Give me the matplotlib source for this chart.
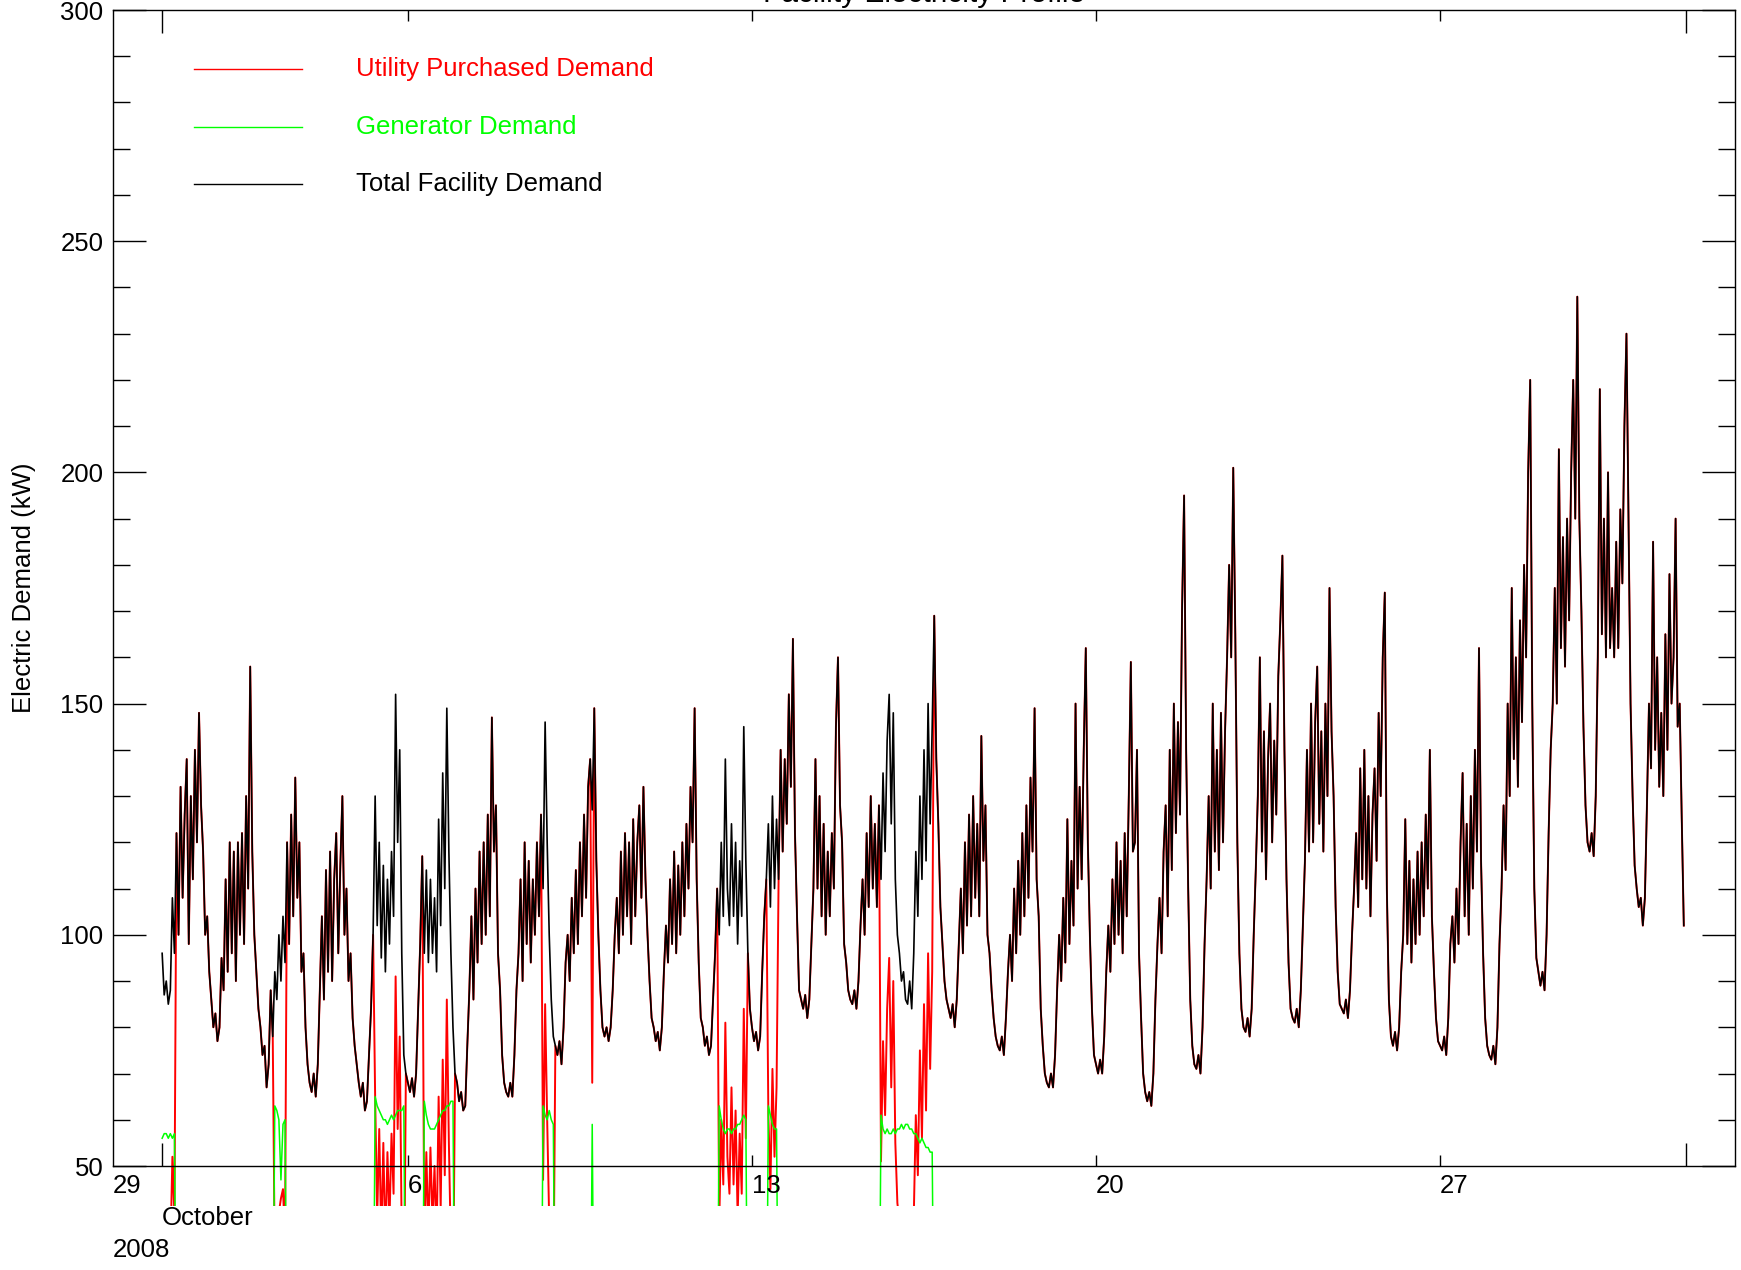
import datetime as dt
import matplotlib
matplotlib.use("Agg")
import matplotlib.pyplot as plt
import matplotlib.transforms as mtransforms
from matplotlib.patches import Rectangle
from matplotlib.ticker import MultipleLocator

plt.rcParams['font.family'] = ['Liberation Sans Narrow', 'Liberation Sans', 'DejaVu Sans']

# hourly total facility demand (kW), one row per day, Oct 1 .. Oct 31 2008
total_wk1 = [
    96, 87, 90, 85, 88, 108, 96, 122, 100, 132, 108, 126, 138, 98, 130, 112, 140, 120, 148, 128, 118, 100, 104, 92,   # Oct 1
    86, 80, 83, 77, 80, 95, 88, 112, 92, 120, 96, 118, 90, 120, 100, 122, 98, 130, 110, 158, 118, 100, 92, 84,        # Oct 2
    80, 74, 76, 67, 72, 88, 78, 92, 86, 100, 90, 104, 94, 120, 98, 126, 104, 134, 108, 120, 92, 96, 80, 72,           # Oct 3
    68, 66, 70, 65, 72, 88, 104, 86, 114, 92, 118, 90, 112, 122, 96, 115, 130, 100, 110, 90, 96, 82, 76, 72,          # Oct 4
    68, 65, 68, 62, 64, 74, 84, 100, 130, 102, 120, 95, 115, 92, 112, 98, 118, 104, 152, 120, 140, 96, 74, 70,        # Oct 5
    68, 66, 69, 65, 70, 84, 98, 117, 96, 114, 94, 112, 96, 108, 92, 125, 102, 135, 110, 149, 118, 96, 80, 70,         # Oct 6
    68, 64, 66, 62, 63, 76, 88, 104, 86, 110, 94, 118, 98, 120, 100, 126, 104, 147, 118, 128, 96, 88, 74, 68,         # Oct 7
]
total_wk2 = [
    66, 65, 68, 65, 74, 88, 96, 112, 90, 120, 98, 116, 94, 112, 100, 120, 104, 126, 110, 146, 120, 100, 86, 78,       # Oct 8
    76, 74, 77, 72, 80, 94, 100, 90, 108, 96, 114, 98, 120, 104, 126, 108, 132, 138, 127, 149, 116, 100, 88, 80,      # Oct 9
    78, 80, 77, 80, 88, 100, 108, 96, 118, 100, 122, 104, 120, 98, 125, 104, 120, 128, 108, 132, 112, 100, 90, 82,    # Oct 10
    80, 77, 79, 75, 80, 92, 102, 94, 112, 98, 118, 96, 115, 100, 120, 104, 124, 110, 132, 120, 149, 112, 94, 82,      # Oct 11
    80, 76, 78, 74, 76, 86, 96, 110, 100, 120, 104, 138, 110, 102, 124, 104, 120, 98, 116, 104, 145, 116, 96, 84,     # Oct 12
    80, 77, 79, 75, 78, 92, 104, 112, 124, 106, 130, 110, 125, 112, 140, 118, 138, 124, 152, 132, 164, 122, 104, 88,  # Oct 13
    86, 84, 87, 82, 86, 98, 110, 138, 110, 130, 104, 124, 100, 118, 104, 122, 110, 145, 160, 128, 120, 98, 94, 88,    # Oct 14
]
total_wk3 = [
    86, 85, 88, 84, 90, 102, 112, 100, 122, 106, 130, 110, 124, 106, 128, 112, 135, 118, 142, 152, 124, 148, 112, 100,  # Oct 15
    96, 90, 92, 86, 85, 90, 84, 96, 118, 104, 130, 112, 140, 116, 150, 124, 145, 169, 138, 124, 106, 98, 90, 86,        # Oct 16
    84, 82, 85, 80, 86, 98, 110, 96, 120, 102, 126, 104, 130, 108, 124, 104, 143, 116, 128, 100, 96, 88, 82, 78,        # Oct 17
    76, 75, 78, 74, 82, 92, 100, 90, 110, 96, 116, 100, 122, 104, 128, 108, 134, 118, 149, 112, 104, 84, 76, 70,        # Oct 18
    68, 67, 70, 67, 74, 88, 100, 90, 108, 94, 125, 98, 116, 102, 150, 110, 132, 112, 140, 162, 120, 100, 84, 74,        # Oct 19
    72, 70, 73, 70, 78, 92, 102, 92, 112, 98, 120, 100, 116, 96, 122, 104, 130, 159, 118, 120, 140, 96, 82, 70,         # Oct 20
    66, 64, 66, 63, 70, 86, 98, 108, 96, 118, 128, 104, 140, 114, 150, 122, 146, 126, 170, 195, 140, 110, 86, 76,       # Oct 21
]
total_wk4 = [
    72, 71, 74, 70, 80, 98, 112, 130, 110, 150, 118, 140, 114, 148, 120, 144, 160, 180, 160, 201, 165, 120, 96, 84,     # Oct 22
    80, 79, 82, 78, 84, 100, 114, 130, 160, 118, 144, 112, 138, 150, 120, 142, 126, 156, 168, 182, 140, 112, 94, 84,    # Oct 23
    82, 81, 84, 80, 88, 102, 116, 140, 118, 150, 120, 146, 158, 124, 144, 118, 150, 130, 175, 144, 130, 106, 92, 85,    # Oct 24
    84, 83, 86, 82, 88, 100, 110, 122, 106, 136, 112, 140, 110, 130, 104, 126, 136, 116, 148, 130, 160, 174, 110, 86,   # Oct 25
    78, 76, 79, 75, 80, 92, 100, 125, 98, 116, 94, 112, 98, 118, 100, 120, 104, 126, 110, 140, 104, 92, 82, 77,         # Oct 26
    76, 75, 78, 74, 82, 98, 104, 94, 110, 98, 120, 135, 104, 124, 100, 130, 110, 140, 118, 162, 116, 96, 82, 76,        # Oct 27
    74, 73, 76, 72, 80, 98, 110, 128, 114, 150, 130, 175, 138, 160, 132, 168, 146, 180, 160, 200, 220, 150, 110, 95,    # Oct 28
]
total_wk5 = [
    92, 89, 92, 88, 100, 122, 140, 150, 175, 150, 205, 162, 186, 158, 190, 168, 200, 220, 190, 238, 190, 170, 145, 128,     # Oct 29
    120, 118, 122, 117, 130, 160, 218, 165, 190, 160, 200, 162, 175, 160, 185, 162, 192, 176, 210, 230, 190, 150, 130, 115, # Oct 30
    110, 106, 108, 102, 108, 128, 150, 136, 185, 140, 160, 132, 148, 130, 165, 140, 178, 150, 160, 190, 145, 150, 125, 102, # Oct 31
]

# generator runs: start hour and hourly output (kW); zero otherwise
gen_starts = ["2008-10-01 00", "2008-10-03 07", "2008-10-05 08", "2008-10-06 08", "2008-10-08 18",
              "2008-10-09 18", "2008-10-12 08", "2008-10-13 08", "2008-10-15 15"]
gen_values = [
    [56, 57, 57, 56, 57, 56, 57],
    [63, 62, 60, 47, 59, 60],
    [65, 63, 62, 61, 60, 60, 59, 60, 61, 60, 61, 62, 62, 62, 63],
    [64, 61, 59, 58, 58, 58, 59, 60, 61, 62, 62, 63, 63, 64, 64],
    [63, 61, 60, 62, 60, 59],
    [59],
    [63, 60, 58, 57, 58, 58, 57, 58, 58, 59, 59, 60, 61, 60],
    [63, 61, 59, 58, 58],
    [61, 58, 57, 58, 57, 57, 58, 57, 58,
     58, 59, 58, 59, 59, 58, 58, 57, 57, 56, 55, 56, 55, 54, 54, 53, 53],
]

day_labels = ["29", "6", "13", "20", "27"]
label_days = [dt.datetime(2008, 9, 29), dt.datetime(2008, 10, 6), dt.datetime(2008, 10, 13),
              dt.datetime(2008, 10, 20), dt.datetime(2008, 10, 27)]

total = total_wk1 + total_wk2 + total_wk3 + total_wk4 + total_wk5
t0 = dt.datetime(2008, 10, 1)
times = [t0 + dt.timedelta(hours=i) for i in range(len(total))]

generator = [0.0] * len(total)
for start, vals in zip(gen_starts, gen_values):
    i0 = int((dt.datetime.strptime(start, "%Y-%m-%d %H") - t0).total_seconds() // 3600)
    for k, v in enumerate(vals):
        generator[i0 + k] = v
utility = [tt - g for tt, g in zip(total, generator)]

W, H = 1741, 1270
fs = 18.5
fig = plt.figure(figsize=(W / 100, H / 100), dpi=100)
ax_l, ax_r, ax_t, ax_b = 113, 1735, 10, 1166
ax = fig.add_axes([ax_l / W, 1 - ax_b / H, (ax_r - ax_l) / W, (ax_b - ax_t) / H])

xmin, xmax = dt.datetime(2008, 9, 30), dt.datetime(2008, 11, 2)
ax.set_xlim(xmin, xmax)
ax.set_ylim(50, 300)

# lines are allowed to run a little below the bottom axis
below = 40 / (ax_b - ax_t)
lines = []
lines += ax.plot(times, utility, color='#ff0000', lw=1.4)
lines += ax.plot(times, generator, color='#00ff00', lw=1.1)
lines += ax.plot(times, total, color='black', lw=1.2)
for ln in lines:
    ln.set_clip_path(Rectangle((0, -below), 1, 1 + below, transform=ax.transAxes))

for sp in ax.spines.values():
    sp.set_linewidth(1.0)

ax.yaxis.set_major_locator(MultipleLocator(50))
ax.yaxis.set_minor_locator(MultipleLocator(10))
ax.tick_params(axis='y', which='major', direction='in', length=24, width=1,
               left=True, right=True, labelsize=fs, pad=7)
ax.tick_params(axis='y', which='minor', direction='in', length=12, width=1, left=True, right=True)

ax.set_xticks([dt.datetime(2008, 10, 1), dt.datetime(2008, 11, 1)])
ax.set_xticks(label_days[1:], minor=True)
ax.tick_params(axis='x', which='major', direction='in', length=16.5, width=1,
               top=True, bottom=True, labelbottom=False)
ax.tick_params(axis='x', which='minor', direction='in', length=8, width=1,
               top=True, bottom=True, labelbottom=False)

trans = mtransforms.blended_transform_factory(ax.transData, ax.transAxes)
ah = ax_b - ax_t
for lab, d in zip(day_labels, label_days):
    ax.text(max(d, xmin), -20 / ah, lab, transform=trans, ha='left', va='center', fontsize=fs)
ax.text(dt.datetime(2008, 10, 1), -52 / ah, "October", transform=trans, ha='left', va='center', fontsize=fs)
ax.text(xmin, -84 / ah, "2008", transform=trans, ha='left', va='center', fontsize=fs)

fig.text(24 / W, 1 - 588 / H, "Electric Demand (kW)", rotation=90, ha='center', va='center', fontsize=fs)
fig.text((ax_l + ax_r) / 2 / W, 1 - 2 / H, "Facility Electricity Profile", ha='center', va='baseline', fontsize=21.5)

# legend drawn by hand, IDL style
leg_names = ["Utility Purchased Demand", "Generator Demand", "Total Facility Demand"]
leg_colors = ['#ff0000', '#00ff00', 'black']
leg_rows = [69, 127, 184]
aw = ax_r - ax_l
for name, col, row in zip(leg_names, leg_colors, leg_rows):
    yy = (ax_b - row) / ah
    ax.plot([(194 - ax_l) / aw, (302 - ax_l) / aw], [yy, yy], color=col, lw=1.0, transform=ax.transAxes)
    ax.text((356 - ax_l) / aw, yy, name, color=col, transform=ax.transAxes, ha='left', va='center', fontsize=fs)

fig.savefig("out.png", dpi=100)
